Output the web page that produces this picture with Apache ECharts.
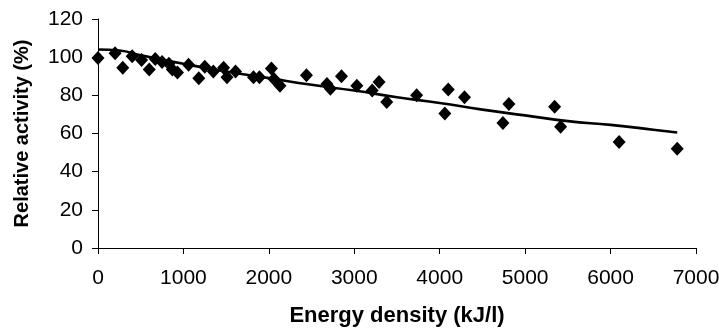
<!DOCTYPE html>
<html>
<head>
<meta charset="utf-8">
<script src="https://cdn.jsdelivr.net/npm/echarts@6/dist/echarts.min.js"></script>
<style>
  html, body { margin: 0; padding: 0; background: #fff; }
  #chart { width: 719px; height: 330px; }
</style>
</head>
<body>
<div id="chart"></div>
<script>
  // measured points, energy density (kJ/l) vs relative activity (%)
  var energyDensity = [0, 200, 290, 400, 510, 600, 670, 750, 830, 870, 930, 1060, 1180, 1250, 1350,
    1470, 1510, 1610, 1820, 1890, 2030, 2060, 2130, 2440, 2680, 2720, 2850, 3030, 3210, 3290,
    3380, 3730, 4060, 4100, 4290, 4740, 4810, 5345, 5415, 6100, 6780];
  var relActivity = [99.5, 102, 94.5, 100.5, 98.5, 93.5, 99, 97.5, 96.5, 93.5, 92, 96, 89, 95, 92.5,
    94.5, 89.5, 92.5, 89.5, 89.5, 94, 88.5, 85, 90.5, 86, 83.5, 90, 85, 82.5, 87,
    76.5, 80, 70.5, 83, 79, 65.5, 75.5, 74, 63.5, 55.5, 52];

  // trend line
  var trendX = [0, 250, 500, 1000, 1500, 2000, 2500, 3000, 3500, 4000, 4500, 5000, 5500, 6000, 6500, 6780];
  var trendY = [104, 103.5, 101, 96.5, 92.5, 89, 85.5, 82.5, 79, 76, 72.5, 69.5, 66.5, 64.5, 62, 60.5];

  var xTicks = [0, 1000, 2000, 3000, 4000, 5000, 6000, 7000];
  var yTicks = [0, 20, 40, 60, 80, 100, 120];

  function pairs(xs, ys) {
    var out = [];
    xs.forEach(function (x, i) {
      out.push([x, ys[i]]);
    });
    return out;
  }

  var font = '"Liberation Sans", Arial, sans-serif';

  var axisCommon = {
    axisLine: { show: true, onZero: false, lineStyle: { color: '#000', width: 1 } },
    axisTick: { show: true, length: 6, lineStyle: { color: '#000', width: 1 } },
    splitLine: { show: false },
    nameLocation: 'middle'
  };

  var options = {
    animation: false,
    backgroundColor: '#fff',
    grid: { left: 98, right: 23, top: 19, bottom: 82, containLabel: false, outerBoundsMode: 'none' },
    xAxis: Object.assign({}, axisCommon, {
      type: 'value',
      min: xTicks[0],
      max: xTicks[xTicks.length - 1],
      interval: 1000,
      name: 'Energy density (kJ/l)',
      nameGap: 57,
      nameTextStyle: { fontFamily: font, fontWeight: 'bold', fontSize: 22, color: '#000' },
      axisLabel: {
        fontFamily: font, fontSize: 21, color: '#000', margin: 20,
        formatter: function (v) { return String(v); }
      }
    }),
    yAxis: Object.assign({}, axisCommon, {
      type: 'value',
      min: yTicks[0],
      max: yTicks[yTicks.length - 1],
      interval: 20,
      name: 'Relative activity (%)',
      nameGap: 66,
      nameTextStyle: { fontFamily: font, fontWeight: 'bold', fontSize: 20, color: '#000' },
      axisLabel: { fontFamily: font, fontSize: 21, color: '#000', margin: 15 }
    }),
    series: [
      {
        name: 'trend',
        type: 'line',
        smooth: true,
        showSymbol: false,
        symbol: 'none',
        lineStyle: { color: '#000', width: 2.6 },
        data: pairs(trendX, trendY),
        z: 2
      },
      {
        name: 'measured',
        type: 'scatter',
        symbol: 'diamond',
        symbolSize: [13, 14],
        itemStyle: { color: '#000', opacity: 1 },
        data: pairs(energyDensity, relActivity),
        z: 3
      }
    ]
  };

  var chart = echarts.init(document.getElementById('chart'));
  chart.setOption(options, true);
</script>
</body>
</html>
